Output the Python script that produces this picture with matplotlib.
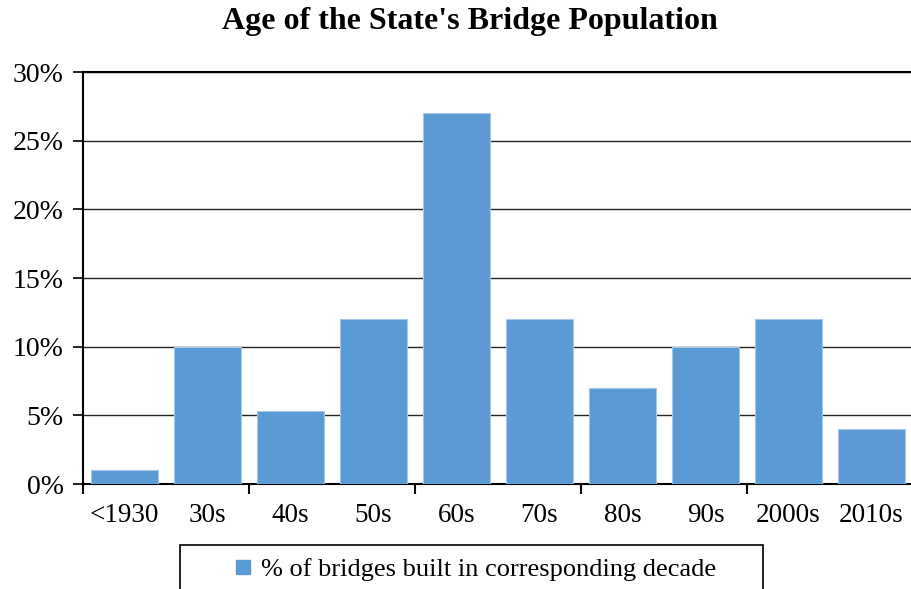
import matplotlib.pyplot as plt
from matplotlib.patches import Rectangle
from matplotlib.lines import Line2D
from matplotlib.ticker import FixedLocator, PercentFormatter

# dados
decadas = ['<1930', '30s', '40s', '50s', '60s', '70s', '80s', '90s', '2000s', '2010s']
percentuais = [1.0, 10.0, 5.3, 12.0, 27.0, 12.0, 7.0, 10.0, 12.0, 4.0]
rotulo_serie = '% of bridges built in corresponding decade'
titulo = "Age of the State's Bridge Population"

cor_barra = '#5B9BD5'

plt.rcParams['font.family'] = ['Liberation Serif', 'DejaVu Serif']

fig = plt.figure(figsize=(9.12, 5.89), dpi=100)
ax = fig.add_axes([83 / 912, 1 - 484 / 589, 830 / 912, 412 / 589])

x = list(range(len(decadas)))
ax.bar(x, percentuais, width=0.8, color=cor_barra, edgecolor='#A7C7EA', linewidth=0.8, zorder=3)

ax.set_xlim(-0.5, len(decadas) - 0.5)
ax.set_ylim(0, 30)
ax.set_yticks(range(0, 31, 5))
ax.yaxis.set_major_formatter(PercentFormatter(decimals=0))
ax.yaxis.grid(True, color='#262626', linewidth=1.0, zorder=1)

ax.set_xticks(x)
ax.set_xticklabels(decadas)
ax.xaxis.set_minor_locator(FixedLocator([-0.5, 1.5, 3.5, 5.5, 7.5, 9.5]))
ax.tick_params(axis='x', which='major', length=0, pad=14, labelsize=19.5)
ax.tick_params(axis='x', which='minor', length=7, width=1.5, direction='out')
ax.tick_params(axis='y', length=7, width=1.2, labelsize=20, pad=7)

for lado in ['top', 'right']:
    ax.spines[lado].set_visible(False)
ax.spines['left'].set_linewidth(1.5)
ax.spines['bottom'].set_linewidth(1.5)
ax.axhline(30, color='black', linewidth=1.5, zorder=4, clip_on=False)

fig.text(469.5 / 912, 1 - 21 / 589, titulo, ha='center', va='center', fontsize=23, fontweight='bold')

# caixa da legenda (cortada na parte de baixo)
caixa = Rectangle((180 / 912, 1 - 600 / 589), 583 / 912, 55 / 589,
                  transform=fig.transFigure, facecolor='white', edgecolor='black',
                  linewidth=1.2, clip_on=False)
fig.patches.append(caixa)
marcador = Line2D([0], [0], marker='s', linestyle='none', markersize=10.5,
                  markerfacecolor=cor_barra, markeredgecolor=cor_barra)
fig.legend([marcador], [rotulo_serie], loc='center', bbox_to_anchor=(475 / 912, 1 - 569 / 589),
           frameon=False, fontsize=19, handlelength=0.7, handletextpad=0.3)

plt.savefig('out.png', dpi=100)
